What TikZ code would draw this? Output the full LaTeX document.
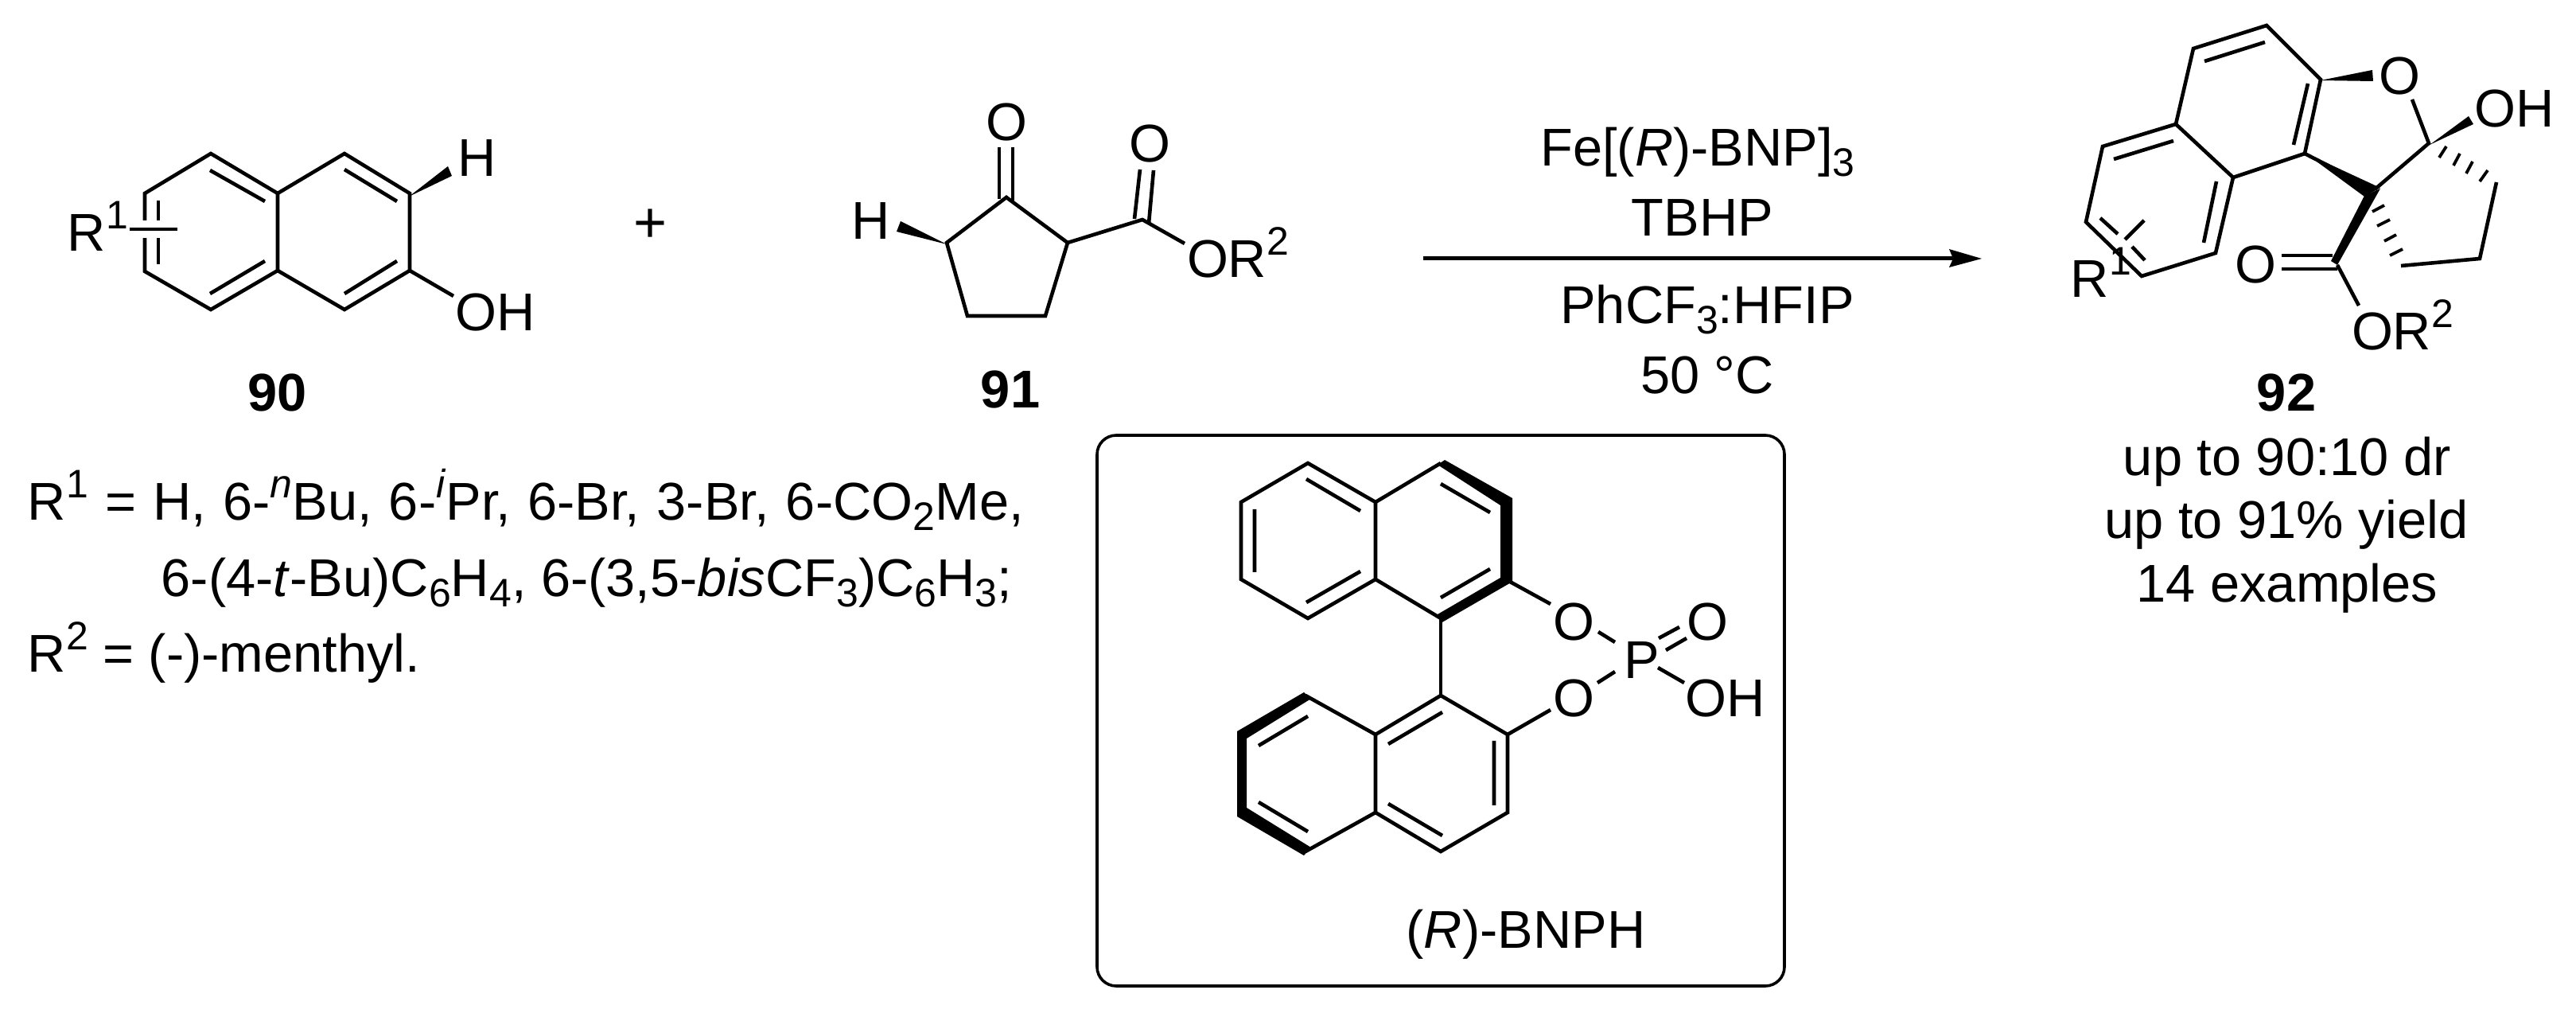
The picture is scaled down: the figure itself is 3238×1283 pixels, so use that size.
\documentclass[tikz,border=0pt]{standalone}
\usepackage{fontspec}
\setmainfont{Liberation Sans}
\newcommand{\chemup}[1]{\raisebox{7pt}{\fontsize{12.5}{14}\selectfont #1}}
\newcommand{\chemdn}[1]{\raisebox{-3.2pt}{\fontsize{12.5}{14}\selectfont #1}}
\tikzset{
  bond/.style={line width=1.15pt,line join=miter},
  hashb/.style={line width=0.95pt},
  halo/.style={white,line width=5.5pt},
  lbl/.style={inner sep=0pt,anchor=base,font=\fontsize{16.7}{20}\selectfont},
  lblw/.style={inner sep=0pt,anchor=base west,font=\fontsize{16.7}{20}\selectfont},
}
\begin{document}
\begin{tikzpicture}[x=0.25pt,y=-0.25pt]
\useasboundingbox (0,0) rectangle (3238,1283);
\fill[white] (0,0) rectangle (3238,1283);

% ---------- 90
\coordinate (a) at (265,193); \coordinate (b) at (349,243);
\coordinate (c) at (349,340); \coordinate (d) at (265,389);
\coordinate (e) at (182,341); \coordinate (f) at (182,243);
\coordinate (g) at (433,193); \coordinate (h) at (515,243);
\coordinate (i) at (515,340); \coordinate (j) at (433,389);
\draw[bond] (a)--(b)--(c)--(d)--(e)--(f)--cycle;
\draw[bond] (b)--(g)--(h)--(i)--(j)--(c);
\draw[bond] (264,214)--(333,253) (433,213)--(499,253) (333,328)--(264,369) (499,328)--(433,369);
\draw[bond] (199,252)--(199,332);
\draw[halo] (170,288)--(215,288);
\draw[bond] (163,288)--(223,288);
\fill (514,247)--(563,209)--(568,221)--cycle;
\coordinate (oh90) at (570,372);
\draw[bond] (i)--(oh90);
\node[lbl] (nH90) at (600,222) {H};
\node[lbl] (nOH90) at (623,416) {OH};
\node[lbl] (nR90) at (123,316) {R\chemup{1}};
\node[lbl,font=\fontsize{18}{20}\selectfont] (plus) at (818,305) {+};
\node[lbl,font=\fontsize{16.7}{20}\selectfont\bfseries] (n90) at (349,517) {90};

% ---------- 91
\coordinate (k1) at (1265,248); \coordinate (k2) at (1342,305);
\coordinate (k3) at (1314,397); \coordinate (k4) at (1216,397);
\coordinate (k5) at (1190,305); \coordinate (k6) at (1436,276);
\coordinate (k7) at (1489,306);
\draw[bond] (k1)--(k2)--(k3)--(k4)--(k5)--cycle;
\draw[bond] (k2)--(k6)--(k7);
\draw[bond] (1256,185)--(1256,250) (1273,185)--(1273,252);
\draw[bond] (1426,275)--(1433,213) (1444,281)--(1450,214);
\fill (1190,307)--(1132,278)--(1127,291)--cycle;
\node[lbl] (nO91a) at (1265,177) {O};
\node[lbl] (nO91b) at (1445,204) {O};
\node[lbl] (nOR91) at (1556,349) {OR\chemup{2}};
\node[lbl] (nH91) at (1095,301) {H};
\node[lbl,font=\fontsize{16.7}{20}\selectfont\bfseries] (n91) at (1270,513) {91};

% ---------- substituent text
\node[lblw] (r1a) at (34,654) {\spaceskip=5.3pt R\chemup{1} = H, 6-\chemup{\textit{n}}Bu, 6-\chemup{\textit{i}}Pr, 6-Br, 3-Br, 6-CO\chemdn{2}Me,};
\node[lblw] (r1b) at (202,750) {6-(4-\textit{t}-Bu)C\chemdn{6}H\chemdn{4}, 6-(3,5-\textit{bis}CF\chemdn{3})C\chemdn{6}H\chemdn{3};};
\node[lblw] (r2) at (34,845) {R\chemup{2} = (-)-menthyl.};

% ---------- arrow and conditions
\coordinate (arrS) at (1789,325); \coordinate (arrE) at (2456,325);
\draw[line width=1.25pt] (arrS)--(arrE);
\fill (2491,325)--(2450,313)--(2455,325)--(2450,336)--cycle;
\node[lbl] (c1) at (2134,209) {Fe[(\textit{R})-BNP]\chemdn{3}};
\node[lbl] (c2) at (2140,297) {TBHP};
\node[lbl] (c3) at (2146,407) {PhCF\chemdn{3}:HFIP};
\node[lbl] (c4) at (2146,495) {50 °C};

% ---------- 92
\coordinate (p1) at (2849,32);  \coordinate (p2) at (2757,61);
\coordinate (p3) at (2735,156); \coordinate (p4) at (2643,184);
\coordinate (p5) at (2622,279); \coordinate (p6) at (2692,347);
\coordinate (p7) at (2785,318); \coordinate (p8) at (2807,223);
\coordinate (p9) at (2897,193); \coordinate (p10) at (2917,100);
\coordinate (sp) at (2985,238); \coordinate (hk) at (3053,180);
\coordinate (oc) at (3032,125); \coordinate (cc) at (2938,333);
\coordinate (or) at (2965,384);
\coordinate (m1) at (3018,334); \coordinate (m2) at (3117,325); \coordinate (m3) at (3138,229);
\draw[bond] (p3)--(p2)--(p1)--(p10)--(p9)--(p8)--(p3)--(p4)--(p5)--(p6)--(p7)--(p8);
\draw[bond] (2847,53)--(2771,77) (2901,105)--(2883,182) (2732,177)--(2657,200) (2786,228)--(2770,305);
\draw[bond] (2640,274)--(2662,294) (2680,310)--(2696,327);
\draw[bond] (2695,277)--(2671,301);
\draw[bond] (p9)--(sp) (sp)--(hk)--(oc);
\draw[bond] (cc)--(or);
\draw[bond] (m1)--(m2)--(m3);
\fill (2917,101)--(2982,88)--(2983,102)--cycle;
\fill (3054,182)--(3103,146)--(3109,156)--cycle;
\fill (2897,192)--(2992,236)--(2972,247)--cycle;
\fill (2938,333)--(2930,328)--(2972,246)--(2992,237)--cycle;
\draw[bond] (2868,321)--(2932,321) (2868,338)--(2938,338);
\draw[hashb] (3075,184)--(3066,198) (3092,193)--(3084,208) (3108,203)--(3100,218) (3127,214)--(3117,228);
\draw[hashb] (2997,258)--(2982,266) (3004,276)--(2988,284) (3012,295)--(2997,303) (3020,313)--(3004,321);
\node[lbl] (nO92) at (3016,119) {O};
\node[lbl] (nOH92) at (3161,160) {OH};
\node[lbl] (nOc92) at (2835,356) {O};
\node[lbl] (nOR92) at (3020,440) {OR\chemup{2}};
\node[lbl] (nR92) at (2641,374) {R\chemup{1}};
\node[lbl,font=\fontsize{16.7}{20}\selectfont\bfseries] (n92) at (2874,517) {92};
\node[lbl] (y1) at (2875,598) {up to 90:10 dr};
\node[lbl] (y2) at (2874,677) {up to 91\% yield};
\node[lbl] (y3) at (2875,757) {14 examples};

% ---------- BNPH box
\draw[line width=0.9pt,rounded corners=6pt] (1379,547) rectangle (2243,1239);
\coordinate (u1) at (1644,582); \coordinate (u2) at (1729,631);
\coordinate (u3) at (1729,728); \coordinate (u4) at (1644,777);
\coordinate (u5) at (1560,728); \coordinate (u6) at (1560,631);
\coordinate (u7) at (1811,582); \coordinate (u8) at (1898,631);
\coordinate (u9) at (1898,731); \coordinate (u10) at (1811,777);
\draw[bond] (u1)--(u2)--(u3)--(u4)--(u5)--(u6)--cycle;
\draw[bond] (u2)--(u7) (u3)--(u10);
\fill (1816,578)--(1901,626)--(1901,731)--(1811,783)--(1807,772)--(1886,726)--(1886,635)--(1807,584)--cycle;
\draw[bond] (1642,602)--(1710,642) (1577,640)--(1577,719) (1642,757)--(1710,718) (1811,608)--(1873,644) (1811,751)--(1873,715);
\coordinate (q1) at (1811,874); \coordinate (q2) at (1895,923);
\coordinate (q3) at (1895,1021); \coordinate (q4) at (1811,1070);
\coordinate (q5) at (1729,1021); \coordinate (q6) at (1729,923);
\coordinate (q7) at (1641,874); \coordinate (q8) at (1560,922);
\coordinate (q9) at (1560,1024); \coordinate (q10) at (1641,1070);
\draw[bond] (q1)--(q2)--(q3)--(q4)--(q5)--(q6)--cycle;
\draw[bond] (q6)--(q7) (q5)--(q10);
\fill (1639,870)--(1555,919)--(1555,1026)--(1639,1075)--(1648,1065)--(1567,1015)--(1567,928)--(1648,878)--cycle;
\draw[bond] (1745,935)--(1813,895) (1878,931)--(1878,1012) (1745,1010)--(1813,1050) (1582,937)--(1644,900) (1582,1008)--(1644,1045);
\draw[bond] (u10)--(q1);
\coordinate (ot) at (1949,759); \coordinate (ob) at (1949,892);
\draw[bond] (u9)--(ot) (q2)--(ob);
\draw[bond] (2009,794)--(2030,807) (2008,858)--(2030,844);
\draw[bond] (2085,802)--(2111,788) (2094,817)--(2120,802);
\draw[bond] (2084,839)--(2117,858);
\node[lbl] (nOt) at (1978,805) {O};
\node[lbl] (nOb) at (1978,901) {O};
\node[lbl] (nP) at (2064,853) {P};
\node[lbl] (nOd) at (2146,805) {O};
\node[lbl] (nOHb) at (2169,901) {OH};
\node[lbl] (nBNPH) at (1918,1192) {(\textit{R})-BNPH};
\end{tikzpicture}
\end{document}
